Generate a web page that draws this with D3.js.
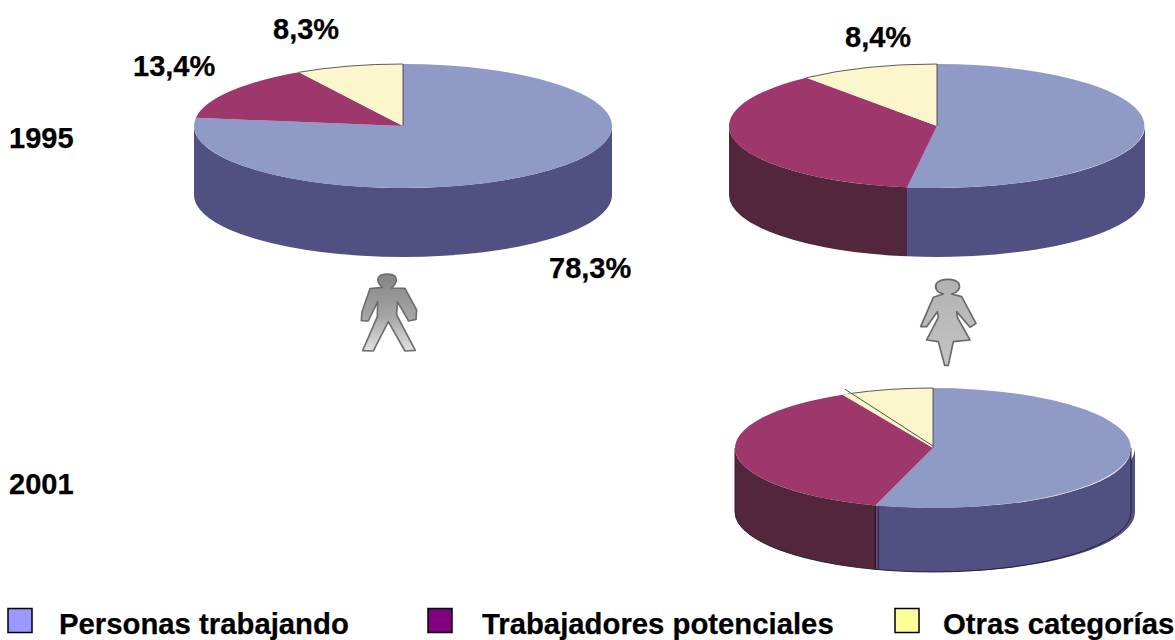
<!DOCTYPE html>
<html><head><meta charset="utf-8">
<script src="https://cdnjs.cloudflare.com/ajax/libs/d3/7.8.5/d3.min.js"></script>
<style>html,body{margin:0;padding:0;background:#fff}svg{display:block}
text{font-family:"Liberation Sans",Arial,sans-serif;font-weight:700;font-size:29px;fill:#000;stroke:#000;stroke-width:.25px}
text.legend{font-size:29.3px}</style>
</head><body><svg id="c" width="1175" height="640"></svg>
<script>
// ---- data: slice shares as drawn in the picture (they differ a little from the printed labels) ----
const categories = ["Personas trabajando","Trabajadores potenciales","Otras categorías"];
const men1995   = [77.1,14.6,8.3];
const women1995 = [52.3,36.9,10.8];
const women2001 = [54.7,38.2,7.1];
const years = ["1995","2001"];
const valueLabels = ["8,3%","13,4%","78,3%","8,4%"];

// ---- layout & style ----
const topColors  = ["#8F9AC6","#9E376C","#FBF6CC"];
const sideColors = ["#515082","#52263C","#8F8A60"];
const legendColors = ["#9999FF","#800080","#FFFF99"];
const svg = d3.select("#c");
const topScale  = d3.scaleOrdinal(categories, topColors);
const sideScale = d3.scaleOrdinal(categories, sideColors);
const legendScale = d3.scaleOrdinal(categories, legendColors);
const pieGen = d3.pie().sort(null);
const unitArc = d3.arc().innerRadius(0).outerRadius(1);

const defs = svg.append("defs");
const g1 = defs.append("linearGradient").attr("id","manFill").attr("x1",0).attr("y1",0).attr("x2",0).attr("y2",1);
g1.append("stop").attr("offset","0%").attr("stop-color","#858585");
g1.append("stop").attr("offset","55%").attr("stop-color","#a5a5a5");
g1.append("stop").attr("offset","100%").attr("stop-color","#e2e2e2");
const g2 = defs.append("linearGradient").attr("id","womanFill").attr("x1",0).attr("y1",0).attr("x2",0).attr("y2",1);
g2.append("stop").attr("offset","0%").attr("stop-color","#b2b2b2");
g2.append("stop").attr("offset","100%").attr("stop-color","#c4c4c4");

function drawPie(values, o){
  const g = svg.append("g");
  const pt = (t,dy=0,r=1)=>[o.cx+o.rx*r*Math.sin(t), o.cy-o.ry*r*Math.cos(t)+dy];
  const arcs = pieGen(values).map((d,i)=>({...d,cat:categories[i]}));
  const wall=(a,b)=>{
    const [x0,y0]=pt(a),[x1,y1]=pt(b),[x2,y2]=pt(b,o.depth),[x3,y3]=pt(a,o.depth);
    const large=(b-a)>Math.PI?1:0;
    return `M${x0},${y0}A${o.rx},${o.ry} 0 ${large} 1 ${x1},${y1}L${x2},${y2}A${o.rx},${o.ry} 0 ${large} 0 ${x3},${y3}Z`;
  };
  // offset copy of the blue wall on the 2001 pie
  if(o.rim){
    g.append("path").attr("transform","translate(4,0)").attr("fill",sideColors[0])
      .attr("d",wall(Math.PI/2,arcs[0].endAngle));
  }
  // side walls: the part of each slice that faces the viewer
  arcs.forEach(d=>{
    const a=Math.max(d.startAngle,Math.PI/2), b=Math.min(d.endAngle,3*Math.PI/2);
    if(b<=a) return;
    g.append("path").attr("fill",sideScale(d.cat)).attr("d",wall(a,b));
  });
  if(o.rim){
    const split=arcs[0].endAngle;
    // divider on the wall, outline of wall, tapered white highlight under the top
    g.append("path").attr("fill",sideColors[1]).attr("transform","translate(3,0)")
      .attr("d",wall(split-0.004,split+0.004));
    g.append("line").attr("x1",pt(split)[0]).attr("x2",pt(split)[0]).attr("y1",pt(split)[1]).attr("y2",pt(split,o.depth)[1])
      .attr("stroke","#1c1016").attr("stroke-width",1);
    const [ax,ay]=pt(Math.PI/2),[ex,ey]=pt(Math.PI/2,o.depth),[fx,fy]=pt(3*Math.PI/2,o.depth),[lx,ly]=pt(3*Math.PI/2);
    g.append("path").attr("fill","none").attr("stroke","#1e1e2a").attr("stroke-width",.9)
      .attr("d",`M${ax},${ay}L${ex},${ey}A${o.rx},${o.ry} 0 0 1 ${fx},${fy}L${lx},${ly}`);
    const [wx0,wy0]=pt(Math.PI/2+0.1),[wx1,wy1]=pt(2.95);
    g.append("path").attr("fill","#fff")
      .attr("d",`M${wx0},${wy0}A${o.rx},${o.ry} 0 0 1 ${wx1},${wy1}A${o.rx*0.96},${o.ry*0.96} 0 0 0 ${wx0},${wy0}Z`);
  }
  g.append("g").attr("transform",`translate(${o.cx},${o.cy}) scale(${o.rx},${o.ry})`)
    .selectAll("path").data(arcs).join("path")
    .attr("d",unitArc).attr("fill",d=>topScale(d.cat));
  // thin dark edge round the yellow slice's outer side and the 12 o'clock radius
  const ys=arcs[2].startAngle;
  const [yx,yy]=pt(ys),[tx,ty]=pt(0);
  g.append("path").attr("fill","none").attr("stroke","#333").attr("stroke-width",.8)
    .attr("d",`M${yx},${yy}A${o.rx},${o.ry} 0 0 1 ${tx},${ty}L${o.cx},${o.cy}`);
  if(o.rim){
    // leader line and yellow sliver beside the purple slice
    const t=arcs[1].endAngle;
    g.append("path").attr("transform",`translate(${o.cx},${o.cy}) scale(${o.rx},${o.ry})`)
      .attr("fill",topColors[2]).attr("d",d3.arc().innerRadius(0).outerRadius(1)({startAngle:t-0.03,endAngle:t+0.02}));
    const [lx,ly]=pt(t+0.02,0,1.075);
    g.append("line").attr("x1",lx).attr("y1",ly).attr("x2",o.cx).attr("y2",o.cy-2)
      .attr("stroke","#55554a").attr("stroke-width",1);
  }
}
const menOpts   ={cx:403,cy:126,rx:209,ry:62,depth:69};
const women95Opt={cx:937,cy:126,rx:208,ry:62,depth:69};
const women01Opt={cx:933,cy:448,rx:198,ry:60,depth:64,rim:true};
drawPie(men1995,menOpts);
drawPie(women1995,women95Opt);
drawPie(women2001,women01Opt);

// ---- pictograms ----
const manPath="M128 82C112 70 108 55 122 46C135 41 155 41 164 48C174 58 168 72 155 84L195 85L230 150L228 178L206 183L172 125L170 165L226 271L195 273L145 185L100 273L68 272L112 170L113 125L85 183L64 182L66 155L90 86Z";
const womanPath="M130 72C110 68 102 52 110 40C122 24 165 24 176 40C184 54 172 68 155 72L185 80L228 160L210 172L170 125L172 142L210 210L160 215L145 286L134 286L115 215L80 210L115 142L112 125L80 170L62 170L100 82Z";
svg.append("path").attr("d",manPath).attr("transform","translate(340,260) scale(0.3333)")
  .attr("fill","url(#manFill)").attr("stroke","#6f6f6f").attr("stroke-width",5).attr("stroke-linejoin","round");
svg.append("path").attr("d",womanPath).attr("transform","translate(900,270) scale(0.3333)")
  .attr("fill","url(#womanFill)").attr("stroke","#6a6a6a").attr("stroke-width",5).attr("stroke-linejoin","round");

// ---- texts ----
const T=(s,x,y)=>svg.append("text").attr("x",x).attr("y",y).text(s);
T(years[0],9,148); T(years[1],9,494);
const labelPos=[[273,39],[133,76],[549,278],[845,47]];
valueLabels.forEach((s,i)=>T(s,labelPos[i][0],labelPos[i][1]));

// ---- legend ----
const legendRect=[8,428,895], legendText=[59,482,943];
categories.forEach((c,i)=>{
  svg.append("rect").attr("x",legendRect[i]).attr("y",608.5).attr("width",24).attr("height",24)
    .attr("fill",legendScale(c)).attr("stroke","#000").attr("stroke-width",1.5);
  T(c,legendText[i],634).attr("class","legend");
});
</script></body></html>
